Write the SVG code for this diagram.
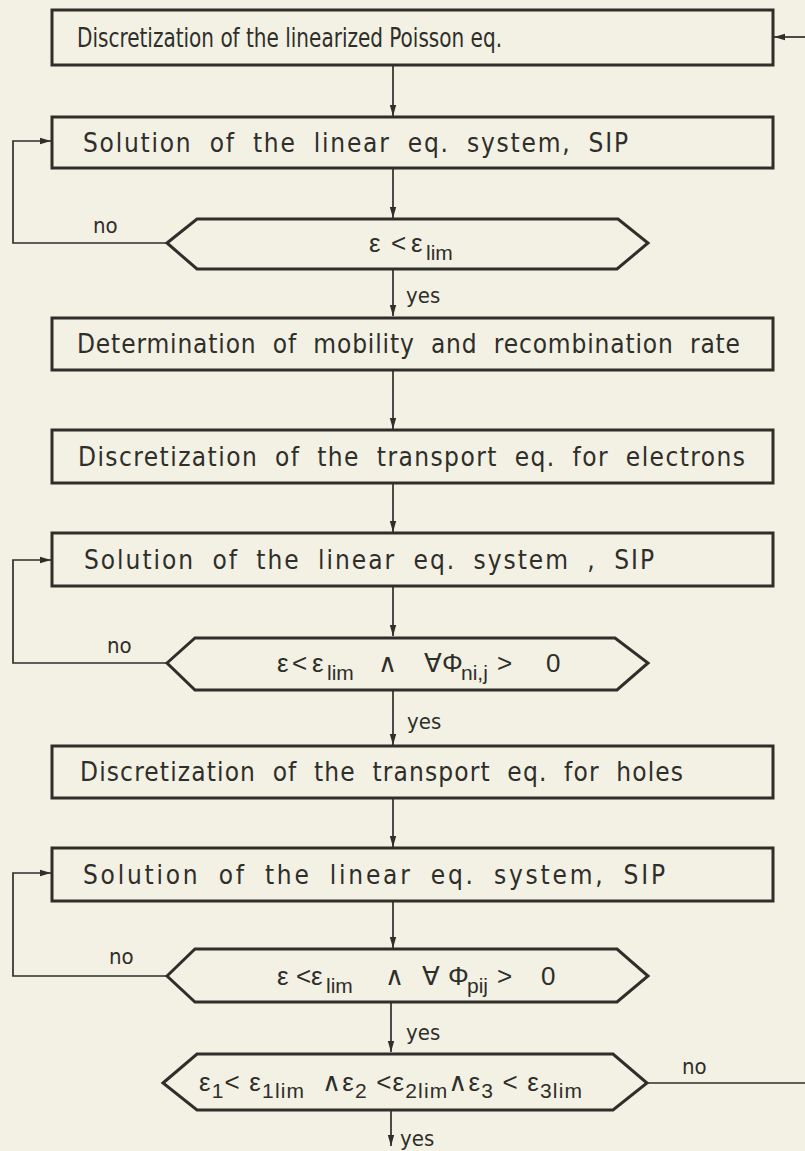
<svg xmlns="http://www.w3.org/2000/svg" width="805" height="1151" viewBox="0 0 805 1151">
<style>
.bg{fill:#f3f1e3}
.box{fill:none;stroke:#2e2e2b;stroke-width:3}
.ln{fill:none;stroke:#2e2e2b;stroke-width:1.7}
.t{font-family:"Liberation Sans Narrow","DejaVu Sans Condensed","Liberation Sans",sans-serif;font-size:26px;fill:#2e2e2b;word-spacing:8px}
.f{font-family:"Liberation Sans Narrow","Liberation Sans","DejaVu Sans",sans-serif;font-size:26px;fill:#2e2e2b}
.s{font-size:21px}
.lb{font-family:"Liberation Sans Narrow","DejaVu Sans Condensed","Liberation Sans",sans-serif;font-size:22px;fill:#2e2e2b}
</style>
<defs>
<marker id="ah" markerUnits="userSpaceOnUse" markerWidth="12" markerHeight="8" refX="11" refY="4" orient="auto">
<path d="M0,0.8 L11,4 L0,7.2 z" fill="#2e2e2b"/>
</marker>
</defs>
<rect class="bg" x="0" y="0" width="805" height="1151"/>

<g id="connectors">
<line class="ln" x1="805" y1="37" x2="774" y2="37" marker-end="url(#ah)"/>
<line class="ln" x1="393" y1="65" x2="393" y2="116" marker-end="url(#ah)"/>
<line class="ln" x1="393" y1="168" x2="393" y2="218" marker-end="url(#ah)"/>
<polyline class="ln" points="167,243 13,243 13,141 51,141" marker-end="url(#ah)"/>
<line class="ln" x1="393" y1="269" x2="393" y2="316" marker-end="url(#ah)"/>
<line class="ln" x1="393" y1="370" x2="393" y2="429" marker-end="url(#ah)"/>
<line class="ln" x1="393" y1="483" x2="393" y2="532" marker-end="url(#ah)"/>
<line class="ln" x1="393" y1="586" x2="393" y2="636" marker-end="url(#ah)"/>
<polyline class="ln" points="167,663 13,663 13,560 51,560" marker-end="url(#ah)"/>
<line class="ln" x1="393" y1="690" x2="393" y2="745" marker-end="url(#ah)"/>
<line class="ln" x1="393" y1="798" x2="393" y2="847" marker-end="url(#ah)"/>
<line class="ln" x1="393" y1="901" x2="393" y2="948" marker-end="url(#ah)"/>
<polyline class="ln" points="167,976 13,976 13,873 51,873" marker-end="url(#ah)"/>
<line class="ln" x1="391" y1="1002" x2="391" y2="1052" marker-end="url(#ah)"/>
<line class="ln" x1="391" y1="1110" x2="391" y2="1146" marker-end="url(#ah)"/>
<line class="ln" x1="647" y1="1083" x2="805" y2="1083"/>
<text class="lb" x="93" y="233">no</text>
<text class="lb" x="406" y="303">yes</text>
<text class="lb" x="107" y="653">no</text>
<text class="lb" x="407" y="729">yes</text>
<text class="lb" x="109" y="964">no</text>
<text class="lb" x="406" y="1040">yes</text>
<text class="lb" x="682" y="1074">no</text>
<text class="lb" x="400" y="1146">yes</text>
</g>

<g id="n1">
<rect class="box" x="52" y="10" width="721" height="55"/>
<text class="t" x="77" y="47" textLength="425" lengthAdjust="spacingAndGlyphs" style="word-spacing:0">Discretization of the linearized Poisson eq.</text>
</g>
<g id="n2">
<rect class="box" x="52" y="117" width="721" height="51"/>
<text class="t" x="83" y="152" textLength="545" lengthAdjust="spacing">Solution of the linear eq. system, SIP</text>
</g>
<g id="d1">
<polygon class="box" points="167,243 197,219 618,219 648,243 617,269 197,269"/>
<text class="f" y="252"><tspan x="369">ε</tspan><tspan x="391">&lt;</tspan><tspan x="411">ε</tspan><tspan class="s" x="426" y="260">lim</tspan></text>
</g>
<g id="n3">
<rect class="box" x="52" y="318" width="721" height="52"/>
<text class="t" x="77" y="353" textLength="663" lengthAdjust="spacing">Determination of mobility and recombination rate</text>
</g>
<g id="n4">
<rect class="box" x="52" y="430" width="721" height="53"/>
<text class="t" x="78" y="466" textLength="667" lengthAdjust="spacing">Discretization  of the transport eq. for electrons</text>
</g>
<g id="n5">
<rect class="box" x="52" y="533" width="721" height="53"/>
<text class="t" x="84" y="569" textLength="570" lengthAdjust="spacing">Solution of the linear eq. system , SIP</text>
</g>
<g id="d2">
<polygon class="box" points="167,663 195,638 615,638 648,663 617,690 195,690"/>
<text class="f" y="672"><tspan x="277">ε</tspan><tspan x="292">&lt;</tspan><tspan x="312">ε</tspan><tspan class="s" x="327" y="680">lim</tspan><tspan x="378" y="672">∧</tspan><tspan x="424">∀</tspan><tspan x="442">Φ</tspan><tspan class="s" x="461" y="680">ni,j</tspan><tspan x="497" y="672">&gt;</tspan><tspan x="546">0</tspan></text>
</g>
<g id="n6">
<rect class="box" x="52" y="746" width="721" height="52"/>
<text class="t" x="80" y="781" textLength="603" lengthAdjust="spacing">Discretization of the transport eq. for holes</text>
</g>
<g id="n7">
<rect class="box" x="52" y="848" width="721" height="53"/>
<text class="t" x="83" y="884" textLength="582" lengthAdjust="spacing">Solution of the linear eq. system, SIP</text>
</g>
<g id="d3">
<polygon class="box" points="167,976 195,949 617,949 648,976 617,1002 195,1002"/>
<text class="f" y="985"><tspan x="277">ε</tspan><tspan x="296">&lt;</tspan><tspan x="311">ε</tspan><tspan class="s" x="326" y="993">lim</tspan><tspan x="385" y="985">∧</tspan><tspan x="422">∀</tspan><tspan x="448">Φ</tspan><tspan class="s" x="467" y="993">pij</tspan><tspan x="497" y="985">&gt;</tspan><tspan x="541">0</tspan></text>
</g>
<g id="d4">
<polygon class="box" points="163,1083 197,1054 613,1054 647,1083 613,1110 197,1110"/>
<text class="f" x="199" y="1091" textLength="383" lengthAdjust="spacing" xml:space="preserve">ε<tspan class="s" dy="7">1</tspan><tspan dy="-7">&lt; ε</tspan><tspan class="s" dy="7">1lim</tspan><tspan dy="-7">  ∧ε</tspan><tspan class="s" dy="7">2</tspan><tspan dy="-7"> &lt;ε</tspan><tspan class="s" dy="7">2lim</tspan><tspan dy="-7">∧ε</tspan><tspan class="s" dy="7">3</tspan><tspan dy="-7"> &lt; ε</tspan><tspan class="s" dy="7">3lim</tspan></text>
</g>
</svg>
